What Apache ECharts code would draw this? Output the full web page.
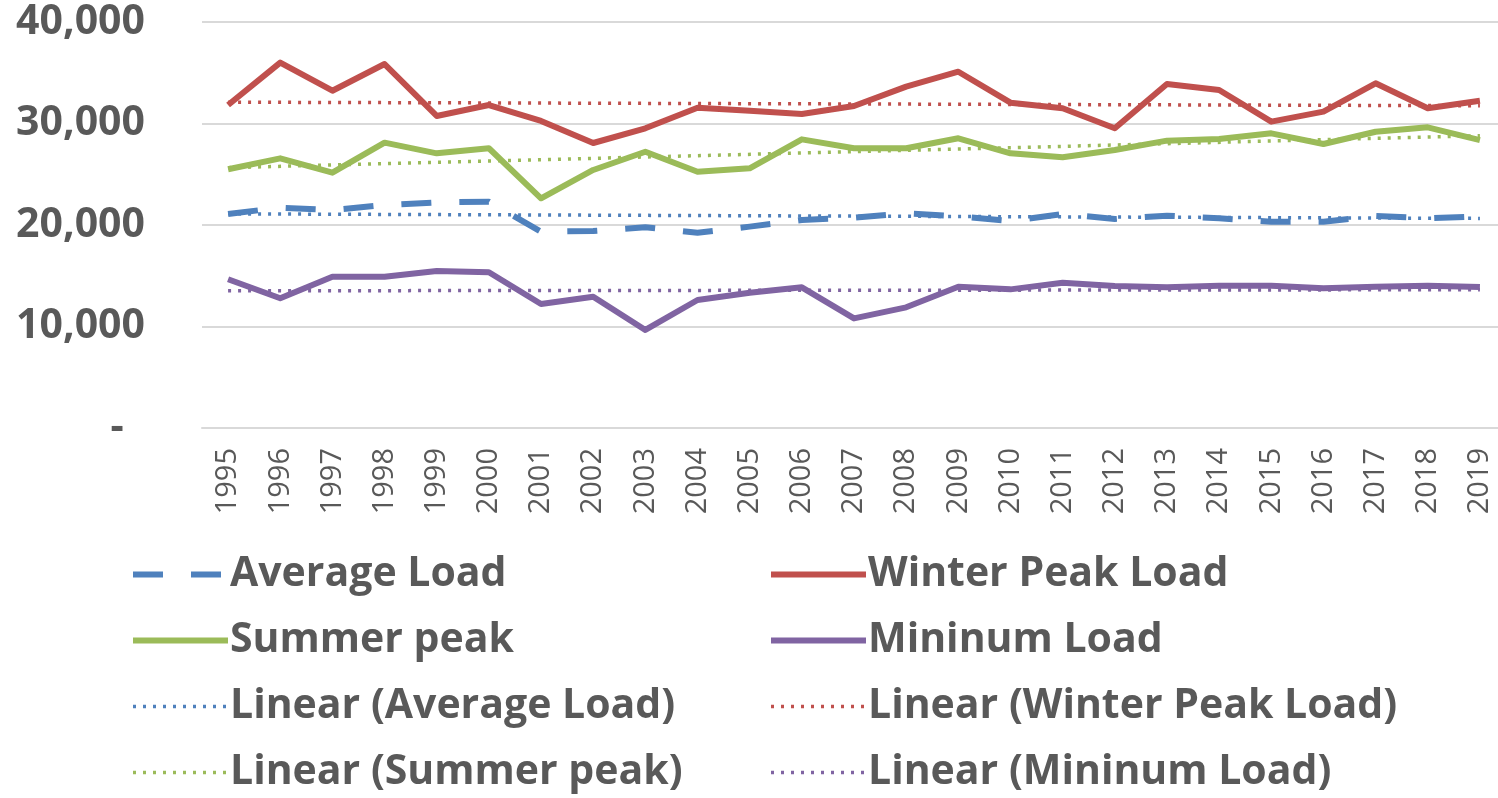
<!DOCTYPE html>
<html>
<head>
<meta charset="utf-8">
<title>Load 1995-2019</title>
<script src="https://cdn.jsdelivr.net/npm/echarts@6/dist/echarts.min.js"></script>
<style>
  html, body { margin: 0; padding: 0; background: #fff; }
  #chart { width: 1498px; height: 798px; }
</style>
</head>
<body>
<div id="chart"></div>
<script>
// years on the category axis
var years = ['1995', '1996', '1997', '1998', '1999', '2000', '2001', '2002', '2003', '2004',
  '2005', '2006', '2007', '2008', '2009', '2010', '2011', '2012', '2013', '2014',
  '2015', '2016', '2017', '2018', '2019'];

// values
var averageLoad = [21080, 21710, 21480, 21970, 22230, 22300, 19340, 19410, 19770, 19240,
  19840, 20490, 20720, 21150, 20860, 20390, 21080, 20590, 20920, 20660,
  20330, 20330, 20890, 20660, 20860];
var winterPeak = [31820, 36000, 33230, 35860, 30740, 31820, 30250, 28080, 29530, 31560,
  31260, 30940, 31720, 33630, 35100, 32050, 31500, 29530, 33890, 33300,
  30180, 31170, 33960, 31500, 32250];
var summerPeak = [25490, 26570, 25160, 28110, 27060, 27560, 22630, 25420, 27220, 25250,
  25580, 28440, 27560, 27560, 28540, 27060, 26670, 27390, 28310, 28470,
  29030, 27980, 29190, 29620, 28370];
var minimumLoad = [14650, 12780, 14910, 14910, 15470, 15340, 12220, 12940, 9660, 12610,
  13330, 13860, 10800, 11890, 13920, 13660, 14320, 13990, 13860, 14020,
  14020, 13760, 13920, 14020, 13890];

// trend lines: value at 1995 and at 2019
var averageTrend = [21100, 20650];
var winterTrend = [32100, 31750];
var summerTrend = [25650, 28800];
var minimumTrend = [13520, 13620];

var yTicks = [0, 10000, 20000, 30000, 40000];

var BLUE = '#4f81bd', RED = '#c0504d', GREEN = '#9bbb59', PURPLE = '#8064a2';
var TEXT = '#595959';
var FONT = '"Open Sans", "DejaVu Sans", sans-serif';
var DOTS = [3, 7];

function mainLine(name, data, color, dash) {
  return {
    name: name,
    type: 'line',
    data: data,
    symbol: 'none',
    z: 3,
    lineStyle: { color: color, width: 6, type: dash || 'solid', cap: 'butt', join: 'round' },
    itemStyle: { color: color }
  };
}

function trendLine(name, ends, color) {
  return {
    name: name,
    type: 'line',
    data: [],
    symbol: 'none',
    z: 2,
    lineStyle: { color: color, width: 3.5, type: DOTS },
    itemStyle: { color: color },
    markLine: {
      silent: true,
      symbol: ['none', 'none'],
      label: { show: false },
      lineStyle: { color: color, width: 3.5, type: DOTS },
      data: [[
        { coord: [years[0], ends[0]] },
        { coord: [years[years.length - 1], ends[1]] }
      ]]
    }
  };
}

// legend in two columns, no symbol dot on the line icons
var legendCommon = {
  orient: 'vertical',
  top: 551,
  padding: 0,
  itemWidth: 95,
  itemHeight: 14,
  itemGap: 19,
  selectedMode: false,
  itemStyle: { opacity: 0 },
  lineStyle: { width: 'inherit' },
  textStyle: { fontFamily: FONT, fontWeight: 'bold', fontSize: 41, color: TEXT, lineHeight: 47, padding: [0, 0, 0, -3] }
};

var chart = echarts.init(document.getElementById('chart'));
chart.setOption({
  animation: false,
  backgroundColor: '#fff',
  grid: { left: 202, right: -8, top: 22, bottom: 370, outerBoundsMode: 'none' },
  legend: [
    Object.assign({}, legendCommon, {
      left: 130,
      data: ['Average Load', 'Summer peak', 'Linear (Average Load)', 'Linear (Summer peak)']
    }),
    Object.assign({}, legendCommon, {
      left: 768,
      data: ['Winter Peak Load', 'Mininum Load', 'Linear (Winter Peak Load)', 'Linear (Mininum Load)']
    })
  ],
  xAxis: {
    type: 'category',
    data: years,
    boundaryGap: true,
    axisLine: { show: true, lineStyle: { color: '#d9d9d9', width: 2 } },
    axisTick: { show: false },
    axisLabel: { rotate: 90, margin: 20, fontFamily: FONT, fontSize: 29, color: TEXT }
  },
  yAxis: {
    type: 'value',
    min: yTicks[0],
    max: yTicks[yTicks.length - 1],
    interval: 10000,
    axisLine: { show: false },
    axisTick: { show: false },
    splitLine: { lineStyle: { color: '#d9d9d9', width: 2 } },
    axisLabel: {
      margin: 57,
      fontFamily: FONT,
      fontWeight: 'bold',
      fontSize: 41,
      color: TEXT,
      formatter: function (v) {
        return v === 0 ? '-  ' : v.toLocaleString('en-US');
      }
    }
  },
  series: [
    trendLine('Linear (Average Load)', averageTrend, BLUE),
    trendLine('Linear (Winter Peak Load)', winterTrend, RED),
    trendLine('Linear (Summer peak)', summerTrend, GREEN),
    trendLine('Linear (Mininum Load)', minimumTrend, PURPLE),
    mainLine('Average Load', averageLoad, BLUE, [30, 28]),
    mainLine('Winter Peak Load', winterPeak, RED),
    mainLine('Summer peak', summerPeak, GREEN),
    mainLine('Mininum Load', minimumLoad, PURPLE)
  ]
});
</script>
</body>
</html>
